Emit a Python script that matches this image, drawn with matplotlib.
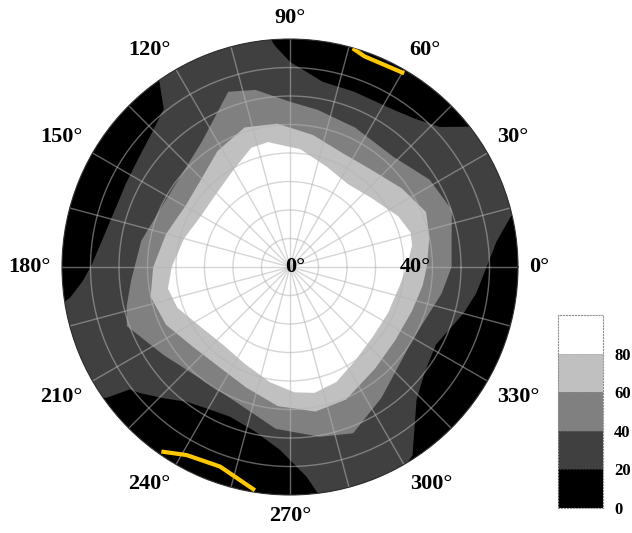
import numpy as np
import matplotlib.pyplot as plt
from matplotlib.colors import ListedColormap, BoundaryNorm
from matplotlib.cm import ScalarMappable

plt.rcParams['font.family'] = ['Liberation Serif', 'DejaVu Serif']
plt.rcParams['font.weight'] = 'bold'

levels = [0, 20, 40, 60, 80, 100]
level_colors = ['#000000', '#404040', '#808080', '#c0c0c0', '#ffffff']

# contour boundaries: azimuth (deg) -> radius (deg)
theta_20 = [0, 7, 12.9, 16, 30, 36, 38, 43, 50, 57, 70, 80, 90, 94, 96, 110,
            123, 125, 128.6, 136, 144, 153, 165, 179.4, 184, 188, 190, 200,
            213, 215.5, 217.4, 220, 226, 232.5, 240, 248.2, 258, 266.9, 274.5,
            277, 279, 290, 299, 301, 303, 313.7, 322, 332, 345, 352]
r_20 = [69, 73, 79.5, 90, 90, 84, 80, 72, 68, 66, 65.5, 66, 72, 78, 84, 90,
        84, 80, 71, 67.5, 65.5, 64.6, 65, 69.6, 73, 78, 84, 90,
        84, 79, 70.7, 68.8, 64, 59.6, 57.5, 56.6, 59, 64.3, 73.8,
        80, 84, 90, 84, 80, 78.9, 64.3, 60, 58, 63, 66]

theta_40 = [0, 10.6, 19.4, 32, 47, 65, 80, 90, 101, 109.4, 125, 152, 170, 185,
            193.4, 199.9, 215, 240, 265, 280, 290.8, 305, 330, 350]
r_40 = [56.7, 57.7, 60.2, 57.8, 53, 54, 56, 58, 63.3, 65.2, 53.8, 49.5, 53, 56,
        58.9, 60.9, 54, 50, 57, 60.5, 62.4, 56, 50, 54]

theta_60 = [0, 12, 22, 35, 50, 65, 80, 95, 108, 122, 137, 150, 165, 180, 192,
            205, 220, 235, 250, 265, 280, 293, 310, 325, 340, 352]
r_60 = [48, 50, 51.5, 48, 44.5, 44, 47, 50.5, 51.5, 48, 43.5, 42.5, 45, 48, 50,
        48, 44, 43, 45, 49, 51.5, 50.5, 46.5, 45, 45.5, 47]

theta_80 = [0, 10, 16, 25, 40, 55, 70, 85, 100, 108, 120, 135, 150, 165, 180,
            190, 200, 215, 230, 245, 260, 272, 281, 292, 305, 320, 335, 350]
r_80 = [41, 43.5, 44, 42, 37.5, 35.5, 37.5, 41.5, 44.5, 44, 39.5, 36.5, 36, 38.5,
        41.5, 43.5, 42, 37.5, 36, 37.5, 41, 44, 45, 43.5, 40, 38, 38, 39]

# yellow traces near the rim
trace1_theta = [73.5, 70.5, 60.0]
trace1_r = [79.6, 78.4, 78.8]
trace2_theta = [235.6, 241.2, 250.7, 260.6]
trace2_r = [78.6, 75.3, 74.2, 79.0]

angle_ticks = np.arange(0, 360, 15)
label_angles = np.arange(0, 360, 30)
r_rings = [10, 20, 30, 40, 50, 60, 70]

cmap = ListedColormap(level_colors)
norm = BoundaryNorm(levels, cmap.N)

fig = plt.figure(figsize=(6.32, 5.33), dpi=100)
ax = fig.add_axes([0.0981, 0.0713, 0.7215, 0.8555], projection='polar')
ax.set_facecolor(cmap(norm(10)))

bands = [(theta_20, r_20, 30), (theta_40, r_40, 50),
         (theta_60, r_60, 70), (theta_80, r_80, 90)]
for th, rr, mid in bands:
    ax.fill(np.deg2rad(th), rr, color=cmap(norm(mid)), lw=0, zorder=1)

ax.plot(np.deg2rad(trace1_theta), trace1_r, color='#ffc800', lw=3, zorder=5)
ax.plot(np.deg2rad(trace2_theta), trace2_r, color='#ffc800', lw=3, zorder=5)

ax.set_ylim(0, 80)
ax.set_thetagrids(angle_ticks, [''] * len(angle_ticks))
ax.set_rgrids(r_rings, labels=[''] * len(r_rings))
ax.grid(True, color='#b4b4b4', alpha=0.55, lw=1.0)
ax.spines['polar'].set_color('#303030')

# angle labels just outside the rim, aligned away from the circle
for a in label_angles:
    c, s = np.cos(np.deg2rad(a)), np.sin(np.deg2rad(a))
    ha = 'left' if c > 0.3 else ('right' if c < -0.3 else 'center')
    va = 'bottom' if s > 0.3 else ('top' if s < -0.3 else 'center')
    ax.text(np.deg2rad(a), 84, f'{a}°', ha=ha, va=va, fontsize=16,
            clip_on=False)

ax.text(0, 1.7, '0°', ha='center', va='center', fontsize=16, zorder=6)
ax.text(0, 44, '40°', ha='center', va='center', fontsize=16, zorder=6)

cax = fig.add_axes([558 / 632, 25 / 533, 45 / 632, 193 / 533])
cb = fig.colorbar(ScalarMappable(norm=norm, cmap=cmap), cax=cax,
                  ticks=levels[:-1], drawedges=True)
cb.outline.set_linestyle(':')
cb.outline.set_edgecolor('#909090')
cb.dividers.set_linestyle(':')
cb.dividers.set_color('#909090')
cax.tick_params(length=0, labelsize=12, pad=8)
cax.minorticks_off()

fig.savefig('out.png', dpi=100)
